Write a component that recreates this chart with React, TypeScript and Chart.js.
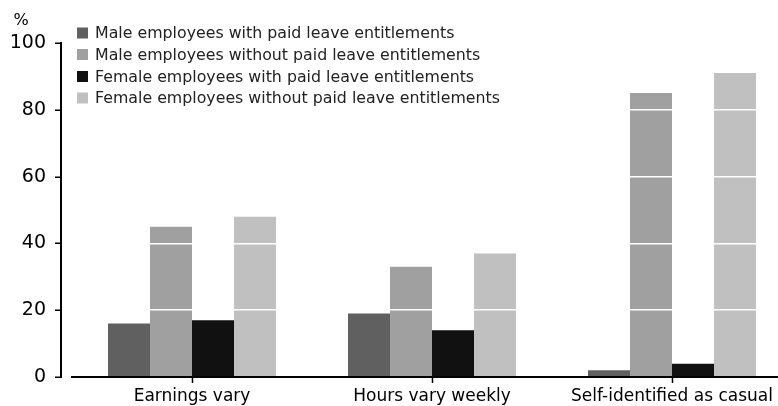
import React, { useEffect, useRef } from "react";
import { Chart, registerables } from "chart.js";

Chart.register(...registerables);

const categories = ["Earnings vary", "Hours vary weekly", "Self-identified as casual"];
const seriesLabels = [
  "Male employees with paid leave entitlements",
  "Male employees without paid leave entitlements",
  "Female employees with paid leave entitlements",
  "Female employees without paid leave entitlements",
];
const maleWith = [16, 19, 2];
const maleWithout = [45, 33, 85];
const femaleWith = [17, 14, 4];
const femaleWithout = [48, 37, 91];
const seriesColors = ["#606060", "#a0a0a0", "#111111", "#c0c0c0"];
const yTicks = [0, 20, 40, 60, 80, 100];

const FONT = "'DejaVu Sans', sans-serif";

const decorPlugin = {
  id: "decor",
  afterDraw(chart: any) {
    const ctx = chart.ctx;
    const y = chart.scales.y;
    const area = chart.chartArea;
    ctx.save();
    // y axis line
    const axX = area.left - 11;
    ctx.strokeStyle = "#000";
    ctx.lineWidth = 2;
    ctx.beginPath();
    ctx.moveTo(axX, y.getPixelForValue(100) - 1);
    ctx.lineTo(axX, y.getPixelForValue(0) + 1);
    ctx.stroke();
    ctx.lineWidth = 1.5;
    yTicks.forEach((v) => {
      const py = Math.round(y.getPixelForValue(v)) + 0.25;
      ctx.beginPath();
      ctx.moveTo(axX - 6, py);
      ctx.lineTo(axX, py);
      ctx.stroke();
    });
    // % label
    ctx.fillStyle = "#000";
    ctx.font = `16px ${FONT}`;
    ctx.textAlign = "center";
    ctx.textBaseline = "middle";
    ctx.fillText("%", 21, 21);
    // legend
    ctx.textAlign = "left";
    ctx.font = `15.8px ${FONT}`;
    const centers = [33, 54.5, 76.5, 98];
    chart.data.datasets.forEach((ds: any, i: number) => {
      const cy = centers[i];
      ctx.fillStyle = ds.backgroundColor;
      ctx.fillRect(77, cy - 5.5, 11, 11);
      ctx.fillStyle = "#222";
      ctx.fillText(ds.label, 95, cy + 1);
    });
    ctx.restore();
  },
};

export default function App() {
  const ref = useRef<HTMLCanvasElement | null>(null);
  useEffect(() => {
    document.documentElement.style.overflow = "hidden";
    const data = [maleWith, maleWithout, femaleWith, femaleWithout];
    const chart = new Chart(ref.current as HTMLCanvasElement, {
      type: "bar",
      data: {
        labels: categories,
        datasets: data.map((d, i) => ({
          label: seriesLabels[i],
          data: d,
          backgroundColor: seriesColors[i],
          borderWidth: 0,
          categoryPercentage: 0.7,
          barPercentage: 1.0,
        })),
      },
      options: {
        animation: false,
        responsive: false,
        maintainAspectRatio: false,
        layout: { padding: { top: 43, right: 8, bottom: 0, left: 0 } },
        plugins: { legend: { display: false }, tooltip: { enabled: false } },
        scales: {
          x: {
            offset: true,
            border: { display: true, color: "#000", width: 2, z: 1 },
            grid: {
              z: 1,
              offset: false,
              drawOnChartArea: false,
              drawTicks: true,
              tickLength: 6,
              tickColor: "#000",
              tickWidth: 1.5,
            },
            ticks: {
              color: "#000",
              font: { family: FONT, size: 17 },
              padding: 3,
              maxRotation: 0,
              autoSkip: false,
            },
            afterFit: (s: any) => {
              s.height = 29;
            },
          },
          y: {
            min: 0,
            max: 100,
            border: { display: false },
            grid: {
              z: 1,
              drawTicks: true,
              tickLength: 26,
              tickColor: "rgba(0,0,0,0)",
              lineWidth: 1.5,
              color: (c: any) =>
                c.tick && c.tick.value > 0 && c.tick.value < 100 ? "#ffffff" : "rgba(0,0,0,0)",
            },
            ticks: {
              stepSize: 20,
              color: "#000",
              font: { family: FONT, size: 19 },
              padding: 0,
            },
            afterFit: (s: any) => {
              s.width = 72;
            },
          },
        },
      },
      plugins: [decorPlugin],
    });
    return () => chart.destroy();
  }, []);
  return (
    <div style={{ position: "fixed", left: 0, top: 0, width: 778, height: 406, overflow: "hidden", background: "#fff" }}>
      <canvas ref={ref} width={800} height={406} style={{ width: 800, height: 406, display: "block" }} />
    </div>
  );
}
